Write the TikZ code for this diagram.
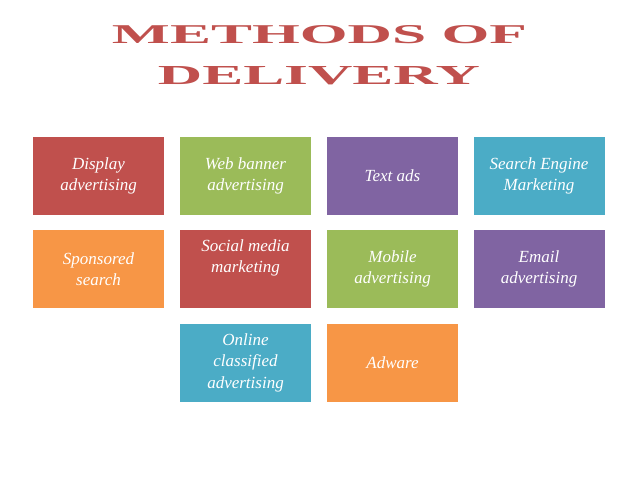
\documentclass[tikz,border=0pt]{standalone}
\usepackage{fontspec}
\setmainfont{Liberation Serif}
\definecolor{cred}{HTML}{C0504D}
\definecolor{cgreen}{HTML}{9BBB59}
\definecolor{cpurple}{HTML}{8064A2}
\definecolor{caqua}{HTML}{4BACC6}
\definecolor{corange}{HTML}{F79646}
\tikzset{
  tile/.style={minimum width=131pt, minimum height=78pt, inner sep=0pt, draw=none},
  tiletext/.style={text=white, align=center, font=\itshape\fontsize{17}{21.5}\selectfont, inner sep=0pt},
  titletext/.style={text=cred, inner sep=0pt, font=\bfseries}
}
\begin{document}
\begin{tikzpicture}[x=1pt,y=-1pt]
\useasboundingbox[fill=white] (0,0) rectangle (638,479);
% title
\node[titletext] (t1) at (319.5,34.5) {\resizebox{415pt}{18pt}{METHODS OF}};
\node[titletext] (t2) at (319,75.5) {\resizebox{322pt}{18pt}{DELIVERY}};
% row 1
\node[tile, fill=cred]    (b1) at (98.5,176) {};
\node[tile, fill=cgreen]  (b2) at (245.5,176) {};
\node[tile, fill=cpurple] (b3) at (392.5,176) {};
\node[tile, fill=caqua]   (b4) at (539,176) {};
% row 2
\node[tile, fill=corange] (b5) at (98.5,269) {};
\node[tile, fill=cred]    (b6) at (245.5,269) {};
\node[tile, fill=cgreen]  (b7) at (392.5,269) {};
\node[tile, fill=cpurple] (b8) at (539,269) {};
% row 3
\node[tile, fill=caqua]   (b9) at (245.5,362.5) {};
\node[tile, fill=corange] (b10) at (392.5,362.5) {};
% texts
\node[tiletext] (l1) at (b1) {Display\\advertising};
\node[tiletext] (l2) at (b2) {Web banner\\advertising};
\node[tiletext] (l3) at (b3) {Text ads};
\node[tiletext] (l4) at (b4) {Search Engine\\Marketing};
\node[tiletext] (l5) at (b5) {Sponsored\\search};
\node[tiletext] (l6) at (245.5,258) {Social media\\marketing};
\node[tiletext] (l7) at (b7) {Mobile\\advertising};
\node[tiletext] (l8) at (b8) {Email\\advertising};
\node[tiletext] (l9) at (b9) {Online\\classified\\advertising};
\node[tiletext] (l10) at (b10) {Adware};
\end{tikzpicture}
\end{document}
